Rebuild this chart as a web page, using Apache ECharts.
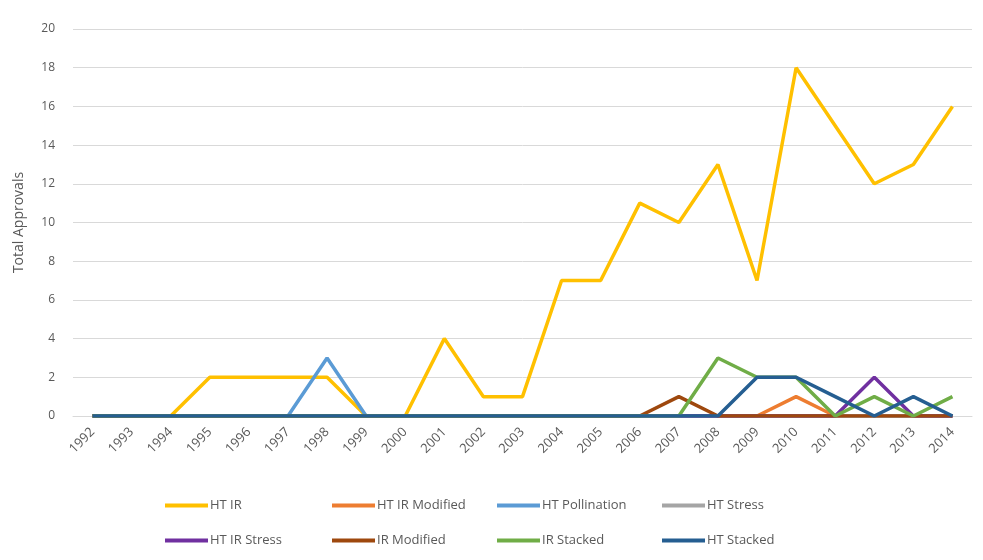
<!DOCTYPE html>
<html>
<head>
<meta charset="utf-8">
<script src="https://cdn.jsdelivr.net/npm/echarts@6/dist/echarts.min.js"></script>
<style>html,body{margin:0;padding:0;background:#fff}#c{width:983px;height:560px}</style>
</head>
<body>
<div id="c"></div>
<script>
var years = ['1992','1993','1994','1995','1996','1997','1998','1999','2000','2001','2002','2003','2004','2005','2006','2007','2008','2009','2010','2011','2012','2013','2014'];
var htIR          = [0,0,0,2,2,2,2,0,0,4,1,1,7,7,11,10,13,7,18,15,12,13,16];
var htIRModified  = [0,0,0,0,0,0,0,0,0,0,0,0,0,0,0,0,0,0,1,0,0,0,0];
var htPollination = [0,0,0,0,0,0,3,0,0,0,0,0,0,0,0,0,0,0,0,0,0,0,0];
var htStress      = [0,0,0,0,0,0,0,0,0,0,0,0,0,0,0,0,0,0,0,0,0,0,0];
var htIRStress    = [0,0,0,0,0,0,0,0,0,0,0,0,0,0,0,0,0,0,0,0,2,0,0];
var irModified    = [0,0,0,0,0,0,0,0,0,0,0,0,0,0,0,1,0,0,0,0,0,0,0];
var irStacked     = [0,0,0,0,0,0,0,0,0,0,0,0,0,0,0,0,3,2,2,0,1,0,1];
var htStacked     = [0,0,0,0,0,0,0,0,0,0,0,0,0,0,0,0,0,2,2,1,0,1,0];
var seriesNames = ['HT IR','HT IR Modified','HT Pollination','HT Stress','HT IR Stress','IR Modified','IR Stacked','HT Stacked'];
var seriesData = [htIR, htIRModified, htPollination, htStress, htIRStress, irModified, irStacked, htStacked];
var colors = ['#FFC000','#ED7D31','#5B9BD5','#A5A5A5','#7030A0','#9E480E','#70AD47','#255E91'];

var chart = echarts.init(document.getElementById('c'));
var font = 'Open Sans';
var colX = [160, 327, 492, 657];
var rowY = [494, 529];
var legends = seriesNames.map(function (n, i) {
  return {
    left: colX[i % 4], top: rowY[Math.floor(i / 4)],
    itemWidth: 43, itemHeight: 4, itemGap: 4, icon: 'rect',
    data: [n],
    textStyle: { color: '#595959', fontSize: 13, fontFamily: font, padding: [0, 0, 0, -3] }
  };
});
chart.setOption({
  animation: false,
  color: colors,
  grid: { left: 73, right: 11, top: 29, bottom: 144 },
  legend: legends,
  xAxis: {
    type: 'category', data: years, boundaryGap: true,
    axisLine: { lineStyle: { color: '#D9D9D9' } },
    axisTick: { show: false },
    axisLabel: { rotate: 45, color: '#595959', fontSize: 13, fontFamily: font, margin: 14, interval: 0 }
  },
  yAxis: {
    type: 'value', min: 0, max: 20, interval: 2,
    name: 'Total Approvals', nameLocation: 'middle', nameGap: 47,
    nameTextStyle: { color: '#595959', fontSize: 14, fontFamily: font },
    axisLine: { show: false }, axisTick: { show: false },
    axisLabel: { color: '#595959', fontSize: 12, fontFamily: font, margin: 18 },
    splitLine: { lineStyle: { color: '#D9D9D9' } }
  },
  series: seriesNames.map(function (n, i) {
    return { name: n, type: 'line', data: seriesData[i], symbol: 'none', lineStyle: { width: 3.5, color: colors[i] }, itemStyle: { color: colors[i] } };
  })
});
</script>
</body>
</html>
